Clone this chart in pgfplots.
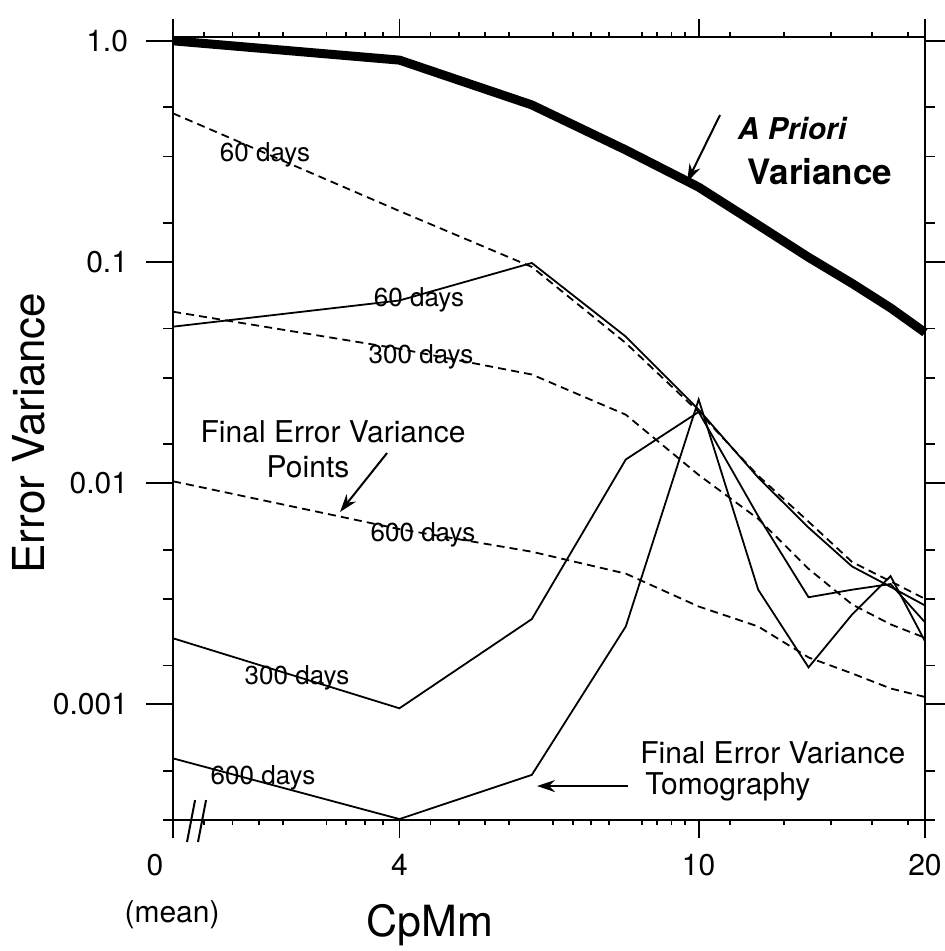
\documentclass[border=0pt]{standalone}
\usepackage{fontspec}
\setmainfont{TeX Gyre Heros}
\usepackage{pgfplots}
\pgfplotsset{compat=1.18}
\usetikzlibrary{arrows.meta}

\begin{document}
\begin{tikzpicture}
% axis 1: data, y major ticks and short minor ticks
\begin{axis}[
  scale only axis, width=376pt, height=391.5pt,
  xmode=log, ymode=log, xmin=2, xmax=20, ymin=3e-4, ymax=1.04,
  axis line style={line width=1pt},
  tick align=outside,
  tick style={line width=0.9pt, black},
  tick label style={font=\fontsize{15}{18}\selectfont},
  yticklabel style={xshift=-5.5pt},
  clip=false,
  xtick=\empty, xminorticks=false,
  ytick={1,0.1,0.01,0.001},
  yticklabels={\mbox{1.0},\mbox{0.1},\mbox{0.01},\mbox{0.001}},
  minor ytick={0.5,0.3,0.15,0.05,0.03,0.015,0.005,0.003,0.0015,0.0005,0.0003},
  major tick length=13.5pt, minor tick length=5pt,
]
% A priori variance
\addplot[black, line width=4.5pt, no markers, line join=round] coordinates {
 (2,1.0) (4,0.818) (6,0.513) (8,0.321) (10,0.218) (12,0.147) (14,0.105) (16,0.080) (18,0.062) (20,0.048)};
% Final error variance, points (dashed)
\addplot[black, line width=0.9pt, no markers, dash pattern=on 4pt off 2.6pt] coordinates {
 (2,0.47) (4,0.170) (6,0.095) (8,0.043) (10,0.021) (12,0.0108) (14,0.0067) (16,0.0044) (18,0.0036) (20,0.0030)};
\addplot[black, line width=0.9pt, no markers, dash pattern=on 4pt off 2.6pt] coordinates {
 (2,0.0596) (4,0.0405) (6,0.031) (8,0.0204) (10,0.0109) (12,0.0069) (14,0.0041) (16,0.00283) (18,0.0023) (20,0.0020)};
\addplot[black, line width=0.9pt, no markers, dash pattern=on 4pt off 2.6pt] coordinates {
 (2,0.0102) (4,0.0062) (6,0.0049) (8,0.0039) (10,0.00277) (12,0.00225) (14,0.00163) (16,0.00138) (18,0.00118) (20,0.00108)};
% Final error variance, tomography (solid)
\addplot[black, line width=0.9pt, no markers] coordinates {
 (2,0.051) (4,0.067) (6,0.099) (8,0.046) (10,0.0215) (12,0.0106) (14,0.0063) (16,0.0042) (18,0.0034) (20,0.0028)};
\addplot[black, line width=0.9pt, no markers] coordinates {
 (2,0.00199) (4,0.00096) (6,0.00243) (8,0.0128) (10,0.021) (12,0.0071) (14,0.00305) (16,0.0033) (18,0.0035) (20,0.00235)};
\addplot[black, line width=0.9pt, no markers] coordinates {
 (2,0.00057) (4,0.000303) (6,0.00048) (8,0.00225) (10,0.0239) (12,0.0033) (14,0.00147) (16,0.00255) (18,0.0038) (20,0.00193)};

% curve labels
\node[font=\fontsize{13}{15}\selectfont, inner sep=0pt] at (rel axis cs:0.1223,0.8493) {60 days};
\node[font=\fontsize{13}{15}\selectfont, inner sep=0pt] at (rel axis cs:0.3271,0.6641) {60 days};
\node[font=\fontsize{13}{15}\selectfont, inner sep=0pt] at (rel axis cs:0.3298,0.5913) {300 days};
\node[font=\fontsize{13}{15}\selectfont, inner sep=0pt] at (rel axis cs:0.3324,0.3640) {600 days};
\node[font=\fontsize{13}{15}\selectfont, inner sep=0pt] at (rel axis cs:0.1649,0.1814) {300 days};
\node[font=\fontsize{13}{15}\selectfont, inner sep=0pt] at (rel axis cs:0.1197,0.0536) {600 days};

\node[font=\fontsize{15}{18}\selectfont\bfseries\itshape, inner sep=0pt] at (rel axis cs:0.8231,0.8838) {A Priori};
\node[font=\fontsize{17.5}{20}\selectfont\bfseries, inner sep=0pt] at (rel axis cs:0.8604,0.8276) {Variance};
\draw[line width=1pt, -{Stealth[length=9pt,width=6pt]}] (rel axis cs:0.7274,0.9004) -- (rel axis cs:0.6835,0.8148);

\node[font=\fontsize{15}{18}\selectfont, inner sep=0pt] at (rel axis cs:0.2128,0.4955) {Final Error Variance};
\node[font=\fontsize{15}{18}\selectfont, inner sep=0pt] at (rel axis cs:0.1795,0.4508) {Points};
\draw[line width=1pt, -{Stealth[length=9pt,width=6pt]}] (rel axis cs:0.2846,0.4687) -- (rel axis cs:0.2221,0.3934);

\node[font=\fontsize{15}{18}\selectfont, inner sep=0pt, anchor=west] at (rel axis cs:0.6210,0.0856) {Final Error Variance};
\node[font=\fontsize{15}{18}\selectfont, inner sep=0pt, anchor=west] at (rel axis cs:0.6277,0.0421) {Tomography};
\draw[line width=1pt, -{Stealth[length=9pt,width=6pt]}] (rel axis cs:0.6051,0.0434) -- (rel axis cs:0.4840,0.0434);

% axis labels
\node[font=\fontsize{22}{26}\selectfont, rotate=90] at (rel axis cs:-0.1915,0.4943) {Error Variance};
\node[font=\fontsize{21.5}{26}\selectfont] at (rel axis cs:0.3418,-0.1341) {CpMm};
\node[font=\fontsize{15}{18}\selectfont] at (rel axis cs:-0.0239,-0.0575) {0};
\node[font=\fontsize{15}{18}\selectfont] at (rel axis cs:-0.0013,-0.1213) {(mean)};

% axis break marks
\draw[line width=1pt] (rel axis cs:0.0186,-0.0281) -- (rel axis cs:0.0293,0.0255);
\draw[line width=1pt] (rel axis cs:0.0332,-0.0281) -- (rel axis cs:0.0439,0.0255);

\coordinate (bbll) at (rel axis cs:-0.2301,-0.1673);
\coordinate (bbur) at (rel axis cs:1.0253,1.0473);
\end{axis}
% axis 2: long minor y ticks
\begin{axis}[
  scale only axis, width=376pt, height=391.5pt,
  xmode=log, ymode=log, xmin=2, xmax=20, ymin=3e-4, ymax=1.04,
  axis line style={line width=1pt},
  tick align=outside,
  tick style={line width=0.9pt, black},
  xtick=\empty, xminorticks=false,
  ytick=\empty,
  minor ytick={0.8,0.6,0.4,0.2,0.08,0.06,0.04,0.02,0.008,0.006,0.004,0.002,0.0008,0.0006,0.0004},
  minor tick length=9.5pt,
]
\end{axis}
% axis 3: x major ticks and short minor ticks
\begin{axis}[
  scale only axis, width=376pt, height=391.5pt,
  xmode=log, ymode=log, xmin=2, xmax=20, ymin=3e-4, ymax=1.04,
  axis line style={line width=1pt},
  tick align=outside,
  tick style={line width=0.9pt, black},
  tick label style={font=\fontsize{15}{18}\selectfont},
  xticklabel style={yshift=-4.5pt},
  ytick=\empty, yminorticks=false,
  xtick={2,4,10,20},
  xticklabels={,\mbox{4},\mbox{10},\mbox{20}},
  minor xtick={2.2,2.4,2.6,2.8,3.2,3.4,3.6,3.8,4.4,4.8,5.2,5.6,6.4,6.8,7.2,7.6,8.4,8.8,9.2,9.6,11,13,15,17,19},
  major tick length=9pt, minor tick length=2.5pt,
]
\end{axis}
% axis 4: medium x ticks
\begin{axis}[
  scale only axis, width=376pt, height=391.5pt,
  xmode=log, ymode=log, xmin=2, xmax=20, ymin=3e-4, ymax=1.04,
  axis line style={line width=1pt},
  tick align=outside,
  tick style={line width=0.9pt, black},
  ytick=\empty, yminorticks=false,
  xtick=\empty,
  minor xtick={3,6,8,12,14,16,18},
  minor tick length=5pt,
]
\end{axis}
\pgfresetboundingbox
\useasboundingbox (bbll) rectangle (bbur);
\end{tikzpicture}
\end{document}
